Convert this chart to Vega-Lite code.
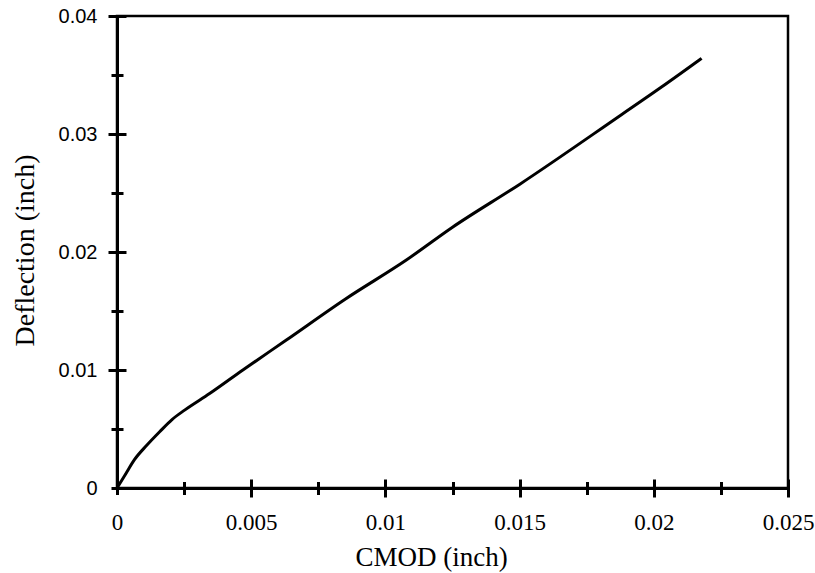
{
  "$schema": "https://vega.github.io/schema/vega-lite/v6.json",
  "width": 671,
  "height": 472,
  "autosize": {"type": "none"},
  "padding": {"left": 117, "top": 16, "right": 27, "bottom": 85},
  "background": "white",
  "config": {
    "view": {"stroke": "black", "strokeWidth": 2.5},
    "font": "Liberation Serif",
    "axis": {"grid": false, "domainColor": "black", "domainWidth": 3, "tickColor": "black", "tickWidth": 3, "labelColor": "black", "titleColor": "black"}
  },
  "data": {"values": [
    {"cmod": 0.0, "defl": 0.0},
    {"cmod": 0.0003, "defl": 0.0011},
    {"cmod": 0.00065, "defl": 0.0024},
    {"cmod": 0.0011, "defl": 0.0036},
    {"cmod": 0.00159, "defl": 0.00477},
    {"cmod": 0.00205, "defl": 0.0058},
    {"cmod": 0.00252, "defl": 0.0066},
    {"cmod": 0.00345, "defl": 0.0080},
    {"cmod": 0.00469, "defl": 0.0100},
    {"cmod": 0.00631, "defl": 0.01254},
    {"cmod": 0.0085, "defl": 0.0160},
    {"cmod": 0.01078, "defl": 0.01932},
    {"cmod": 0.0125, "defl": 0.0221},
    {"cmod": 0.01501, "defl": 0.02575},
    {"cmod": 0.01874, "defl": 0.03155},
    {"cmod": 0.0203, "defl": 0.0340},
    {"cmod": 0.02178, "defl": 0.03641}
  ]},
  "resolve": {"axis": {"x": "independent", "y": "independent"}},
  "layer": [
    {
      "mark": {"type": "line", "color": "black", "strokeWidth": 3, "interpolate": "monotone"},
      "encoding": {
        "x": {"field": "cmod", "type": "quantitative", "scale": {"domain": [0, 0.025], "nice": false},
          "axis": {"title": "CMOD (inch)", "orient": "bottom", "values": [0, 0.005, 0.01, 0.015, 0.02, 0.025],
            "format": "~g", "ticks": false, "labelPadding": 23, "labelFlush": false, "labelOverlap": false,
            "labelFont": "Liberation Serif", "labelFontSize": 23, "titleFont": "Liberation Serif", "titleFontSize": 27, "titleFontWeight": "normal",
            "titleX": 314, "titleY": 77, "titleAnchor": "middle", "titleBaseline": "alphabetic"}},
        "y": {"field": "defl", "type": "quantitative", "scale": {"domain": [0, 0.04], "nice": false},
          "axis": {"title": "Deflection (inch)", "orient": "left", "values": [0, 0.01, 0.02, 0.03, 0.04],
            "format": "~g", "ticks": false, "labelPadding": 20, "labelFlush": false, "labelOverlap": false,
            "labelFont": "Liberation Sans", "labelFontSize": 20, "titleFont": "Liberation Serif", "titleFontSize": 28, "titleFontWeight": "normal",
            "titleX": -84, "titleY": 234, "titleAngle": -90, "titleAnchor": "middle", "titleBaseline": "alphabetic"}}
      }
    },
    {
      "mark": {"type": "line", "opacity": 0},
      "encoding": {
        "x": {"field": "cmod", "type": "quantitative",
          "axis": {"title": null, "orient": "bottom", "labels": false, "domain": false, "values": [0.005, 0.01, 0.015, 0.02, 0.025], "tickSize": 18, "offset": -9}},
        "y": {"field": "defl", "type": "quantitative",
          "axis": {"title": null, "orient": "left", "labels": false, "domain": false, "values": [0.01, 0.02, 0.03, 0.04], "tickSize": 18, "offset": -9}}
      }
    },
    {
      "mark": {"type": "line", "opacity": 0},
      "encoding": {
        "x": {"field": "cmod", "type": "quantitative",
          "axis": {"title": null, "orient": "bottom", "labels": false, "domain": false, "values": [0, 0.0025, 0.0075, 0.0125, 0.0175, 0.0225], "tickSize": 13, "offset": -6.5}},
        "y": {"field": "defl", "type": "quantitative",
          "axis": {"title": null, "orient": "left", "labels": false, "domain": false, "values": [0, 0.005, 0.015, 0.025, 0.035], "tickSize": 12, "offset": -6}}
      }
    }
  ]
}
